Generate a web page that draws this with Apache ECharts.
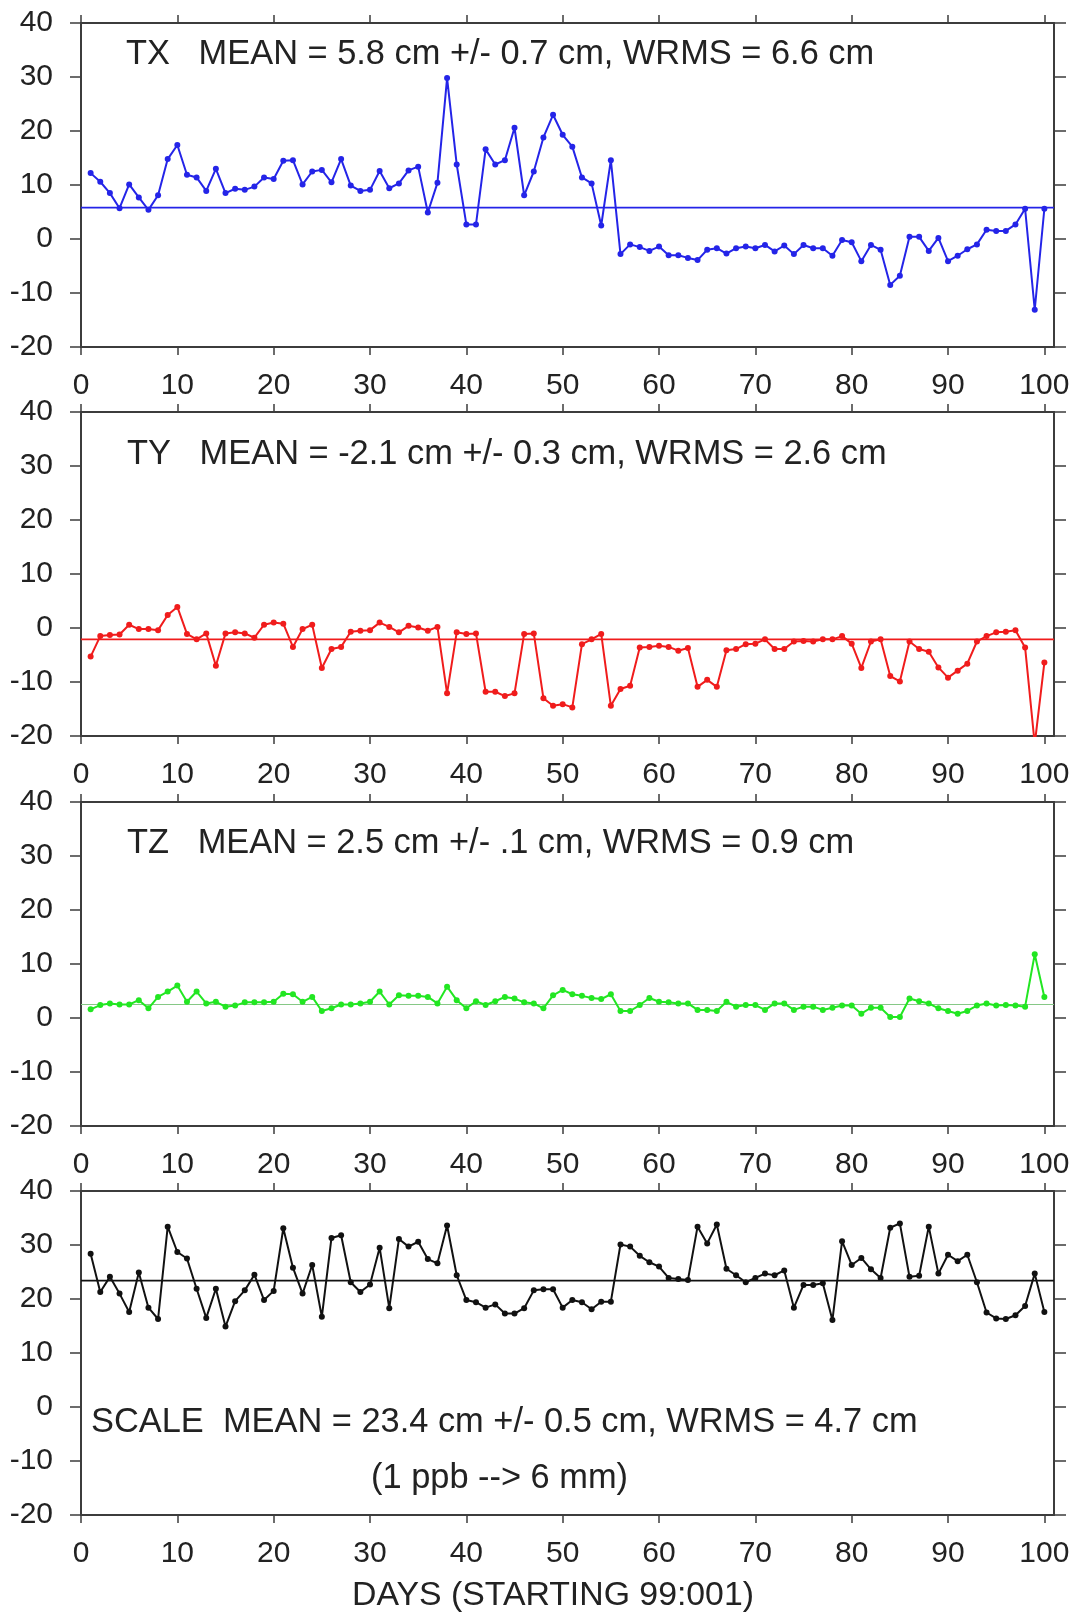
<!DOCTYPE html>
<html>
<head>
<meta charset="utf-8">
<script src="https://cdn.jsdelivr.net/npm/echarts@6/dist/echarts.min.js"></script>
<style>
html,body{margin:0;padding:0;background:#fff;}
#chart{width:1076px;height:1614px;}
</style>
</head>
<body>
<div id="chart"></div>
<script>
// ---- data ----
const days = Array.from({length: 100}, (_, i) => i + 1);
const xTickValues = [0, 10, 20, 30, 40, 50, 60, 70, 80, 90, 100];

const txValues = [12.2,10.6,8.5,5.7,10.1,7.7,5.4,8.1,14.8,17.4,
  11.9,11.4,8.9,13.0,8.5,9.3,9.1,9.7,11.4,11.1,
  14.5,14.6,10.1,12.5,12.8,10.5,14.8,9.9,8.9,9.1,
  12.6,9.4,10.3,12.7,13.4,4.9,10.4,29.8,13.8,2.7,
  2.7,16.6,13.8,14.6,20.6,8.1,12.5,18.8,23.0,19.3,
  17.1,11.4,10.3,2.5,14.6,-2.8,-1.0,-1.5,-2.2,-1.4,
  -3.0,-3.0,-3.5,-3.9,-2.0,-1.7,-2.7,-1.7,-1.4,-1.7,
  -1.1,-2.3,-1.2,-2.8,-1.1,-1.7,-1.7,-3.1,-0.2,-0.6,
  -4.1,-1.1,-2.0,-8.5,-6.8,0.4,0.4,-2.2,0.2,-4.1,
  -3.1,-1.9,-1.0,1.7,1.5,1.5,2.7,5.6,-13.1,5.6];

const tyValues = [-5.3,-1.5,-1.3,-1.2,0.6,-0.2,-0.2,-0.4,2.4,3.9,
  -1.1,-2.1,-1.0,-7.0,-1.0,-0.8,-1.0,-1.8,0.6,1.0,
  0.8,-3.5,-0.2,0.6,-7.4,-3.9,-3.5,-0.7,-0.5,-0.4,
  1.0,0.2,-0.8,0.4,0.1,-0.5,0.2,-12.1,-0.8,-1.1,
  -1.0,-11.8,-11.8,-12.6,-12.1,-1.1,-1.0,-13.0,-14.4,-14.1,
  -14.7,-3.0,-2.1,-1.1,-14.4,-11.3,-10.7,-3.6,-3.5,-3.3,
  -3.5,-4.2,-3.7,-10.9,-9.6,-10.9,-4.1,-3.9,-3.0,-2.9,
  -2.1,-3.9,-3.9,-2.5,-2.4,-2.5,-2.1,-2.1,-1.5,-2.9,
  -7.4,-2.5,-2.1,-8.9,-9.9,-2.5,-3.9,-4.4,-7.3,-9.2,
  -7.9,-6.6,-2.5,-1.5,-0.8,-0.7,-0.4,-3.6,-21.5,-6.4];

const tzValues = [1.6,2.4,2.7,2.5,2.5,3.3,1.8,3.9,4.9,6.0,
  3.0,4.9,2.7,3.0,2.1,2.3,2.9,2.9,2.9,3.0,
  4.5,4.4,3.0,3.9,1.3,1.8,2.5,2.5,2.7,3.0,
  4.9,2.5,4.2,4.1,4.1,3.9,2.7,5.8,3.3,1.8,
  3.1,2.4,3.1,3.9,3.6,2.9,2.7,1.8,4.2,5.2,
  4.4,4.1,3.7,3.5,4.4,1.3,1.3,2.4,3.7,3.0,
  2.9,2.7,2.7,1.5,1.5,1.3,3.0,2.1,2.4,2.4,
  1.5,2.7,2.7,1.5,2.1,2.1,1.5,1.9,2.3,2.3,
  0.8,1.9,1.9,0.2,0.2,3.6,3.1,2.7,1.8,1.3,
  0.8,1.3,2.3,2.7,2.3,2.4,2.3,2.1,11.8,3.9];

const scaleValues = [28.4,21.3,24.1,21.0,17.6,24.9,18.4,16.3,33.4,28.7,
  27.5,21.9,16.5,21.9,14.9,19.6,21.6,24.5,19.8,21.5,
  33.1,25.8,21.0,26.3,16.7,31.3,31.8,23.1,21.3,22.7,
  29.5,18.3,31.1,29.7,30.6,27.4,26.6,33.6,24.4,19.8,
  19.4,18.4,19.0,17.3,17.3,18.3,21.6,21.8,21.8,18.4,
  19.8,19.4,18.1,19.5,19.5,30.1,29.7,28.0,26.8,26.0,
  23.9,23.7,23.5,33.4,30.3,33.8,25.6,24.4,23.1,23.9,
  24.7,24.4,25.3,18.4,22.6,22.6,22.9,16.1,30.7,26.3,
  27.6,25.5,23.9,33.2,34.0,24.1,24.3,33.4,24.7,28.2,
  27.0,28.2,23.1,17.5,16.4,16.3,17.0,18.7,24.7,17.6];

const meanValues = [5.8, -2.1, 2.5, 23.4];
const panelLabels = [
  'TX   MEAN = 5.8 cm +/- 0.7 cm, WRMS = 6.6 cm',
  'TY   MEAN = -2.1 cm +/- 0.3 cm, WRMS = 2.6 cm',
  'TZ   MEAN = 2.5 cm +/- .1 cm, WRMS = 0.9 cm',
  'SCALE  MEAN = 23.4 cm +/- 0.5 cm, WRMS = 4.7 cm'
];
const scaleNote = '(1 ppb --> 6 mm)';
const xAxisTitle = 'DAYS (STARTING 99:001)';
const seriesList = [txValues, tyValues, tzValues, scaleValues];
const seriesColors = ['#2424e8', '#f01c1c', '#22e622', '#111111'];
const meanColors = ['#2424e8', '#f01c1c', '#86c886', '#111111'];

// ---- layout ----
const FONT = '"Liberation Sans", Arial, Helvetica, sans-serif';
const panelTops = [23, 412, 802, 1191];
const gridLeft = 81, gridWidth = 973, gridHeight = 324;
const frameColor = '#3c3c3c';
const textColor = '#222';

const grids = [], xAxes = [], yAxes = [], series = [];
panelTops.forEach((top, i) => {
  grids.push({left: gridLeft, top: top, width: gridWidth, height: gridHeight, containLabel: false});
  const axLine = {show: true, onZero: false, lineStyle: {color: frameColor, width: 2}};
  const base = {
    type: 'value', gridIndex: i, min: 0, max: 101,
    axisLine: axLine, splitLine: {show: false}
  };
  xAxes.push(Object.assign({}, base, {
    position: 'bottom',
    axisTick: {show: true, inside: false, length: 8, customValues: xTickValues, lineStyle: {color: frameColor, width: 1.5}},
    axisLabel: {show: true, customValues: xTickValues, fontSize: 30, fontFamily: FONT, color: textColor, margin: 24}
  }));
  xAxes.push(Object.assign({}, base, {
    position: 'top',
    axisTick: {show: true, inside: false, length: 8, customValues: xTickValues, lineStyle: {color: frameColor, width: 1.5}},
    axisLabel: {show: false}
  }));
  const ybase = {
    type: 'value', gridIndex: i, min: -20, max: 40, interval: 10,
    axisLine: axLine, splitLine: {show: false}
  };
  yAxes.push(Object.assign({}, ybase, {
    position: 'left',
    axisTick: {show: true, inside: false, length: 11, lineStyle: {color: frameColor, width: 1.5}},
    axisLabel: {show: true, fontSize: 30, fontFamily: FONT, color: textColor, margin: 28}
  }));
  yAxes.push(Object.assign({}, ybase, {
    position: 'right',
    axisTick: {show: true, inside: false, length: 12, lineStyle: {color: frameColor, width: 1.5}},
    axisLabel: {show: false}
  }));

  // mean line
  series.push({
    type: 'line', xAxisIndex: 2 * i, yAxisIndex: 2 * i,
    data: [[0, meanValues[i]], [101, meanValues[i]]],
    showSymbol: false, silent: true,
    lineStyle: {color: meanColors[i], width: i === 2 ? 1.2 : 1.8},
    animation: false, z: 2
  });
  // data line
  series.push({
    type: 'line', xAxisIndex: 2 * i, yAxisIndex: 2 * i,
    data: days.map((d, k) => [d, seriesList[i][k]]),
    symbol: 'circle', symbolSize: 6, showSymbol: true,
    itemStyle: {color: seriesColors[i]},
    lineStyle: {color: seriesColors[i], width: 2},
    clip: true, animation: false, z: 3
  });
});

const textStyle = (txt, x, y, size, align) => ({
  type: 'text', x: x, y: y, silent: true,
  style: {text: txt, fontSize: size, fontFamily: FONT, fill: textColor,
    textAlign: align || 'left', textVerticalAlign: 'middle'}
});

const graphics = [
  textStyle(panelLabels[0], 126, 55, 34.4),
  textStyle(panelLabels[1], 127, 455, 34.4),
  textStyle(panelLabels[2], 127, 844, 34.4),
  textStyle(panelLabels[3], 91, 1423, 34.4),
  textStyle(scaleNote, 371, 1479, 34.4),
  textStyle(xAxisTitle, 553, 1596, 33.8, 'center')
];

const chart = echarts.init(document.getElementById('chart'), null, {renderer: 'canvas'});
chart.setOption({
  animation: false,
  backgroundColor: '#ffffff',
  grid: grids,
  xAxis: xAxes,
  yAxis: yAxes,
  series: series,
  graphic: graphics
});
</script>
</body>
</html>
